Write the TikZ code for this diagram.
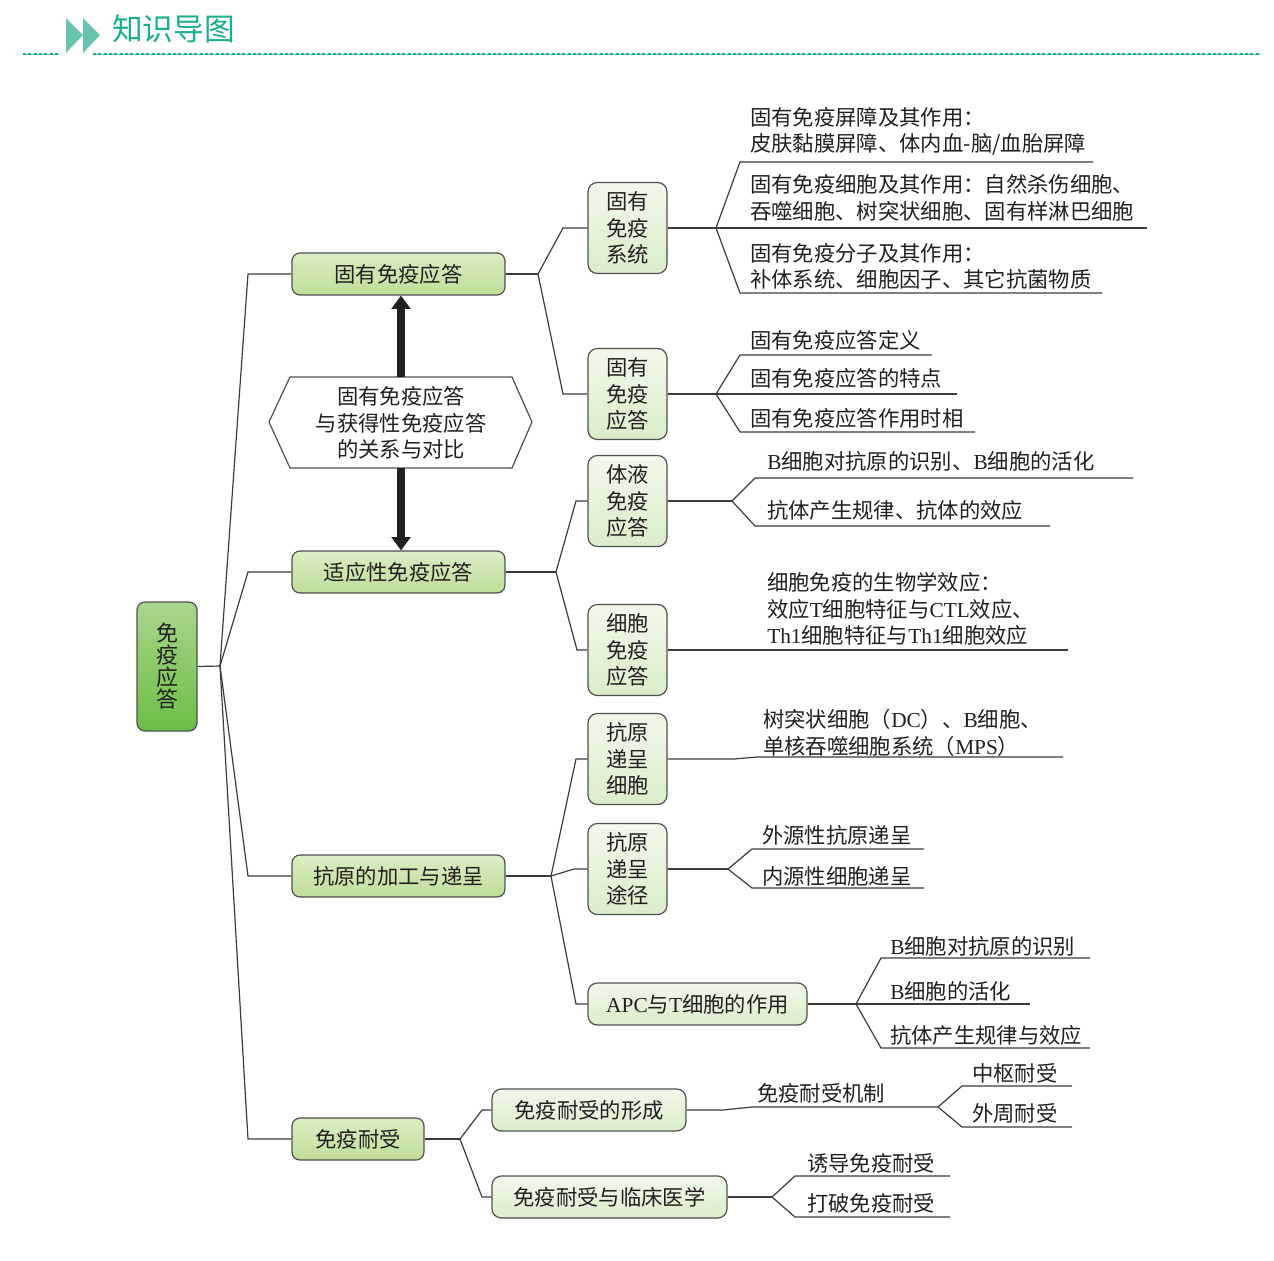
\documentclass[tikz,border=0pt]{standalone}
\usepackage{fontspec}
\setmainfont{Noto Sans CJK SC}
\newfontfamily\latf{Liberation Serif}
\newcommand\EN[1]{{\latf #1}}
\usetikzlibrary{arrows.meta}
\definecolor{teal1}{HTML}{1AAE91}
\definecolor{teal2}{HTML}{66C4B0}
\definecolor{txt}{HTML}{231F20}
\definecolor{lnc}{HTML}{3C3C3C}
\definecolor{bdc}{HTML}{505050}
\definecolor{rootT}{HTML}{A9D68C}
\definecolor{rootB}{HTML}{6CBD45}
\definecolor{l1T}{HTML}{DAEDC4}
\definecolor{l1B}{HTML}{BFDE98}
\definecolor{l2T}{HTML}{F1F8EA}
\definecolor{l2B}{HTML}{DAEDCA}
\begin{document}
\begin{tikzpicture}[x=0.75pt,y=-0.75pt,
  font=\fontsize{16pt}{20pt}\selectfont, text=txt,
  ln/.style={draw=lnc,line width=0.9pt},
  boxbase/.style={draw=bdc,line width=0.9pt,inner sep=0pt,align=center},
  rootbox/.style={boxbase,rounded corners=6pt,top color=rootT,bottom color=rootB,minimum width=45pt,minimum height=96.75pt},
  l1box/.style={boxbase,rounded corners=6pt,top color=l1T,bottom color=l1B,minimum height=31.5pt},
  l2box/.style={boxbase,rounded corners=7pt,top color=l2T,bottom color=l2B,minimum height=31.5pt},
  vbox/.style={l2box,minimum width=59.25pt,minimum height=68.25pt},
  lbl/.style={anchor=west,inner sep=0pt,align=left},
  dotline/.style={teal1,line width=2.2pt,dash pattern=on 2.2pt off 1.8pt},
  thinline/.style={teal1!70,line width=0.5pt},
  bigarrow/.style={draw=txt,line width=5.3pt,-{Triangle[width=14pt,length=10pt]}}]
\useasboundingbox[fill=white] (0,0) rectangle (1274,1260);

% header
\fill[teal2] (66,18) -- (83,35) -- (66,53) -- cycle;
\fill[teal2] (83,18) -- (100,35) -- (83,53) -- cycle;
\node[anchor=west,inner sep=0pt,text=teal1,font=\fontsize{23pt}{25pt}\selectfont] (title) at (112,29) {知识导图};
\draw[thinline] (23,54) -- (59,54);
\draw[thinline] (93,54) -- (1260,54);
\draw[dotline] (23,54) -- (59,54);
\draw[dotline] (93,54) -- (1260,54);

% root and level 1
\node[rootbox,font=\fontsize{16.5pt}{16.5pt}\selectfont] (root) at (167,666.5) {免\\疫\\应\\答};
\node[l1box,minimum width=159.75pt] (g1) at (398.5,274) {固有免疫应答};
\node[l1box,minimum width=159.75pt] (g2) at (398.5,572) {适应性免疫应答};
\node[l1box,minimum width=159.75pt] (g3) at (398.5,876) {抗原的加工与递呈};
\node[l1box,minimum width=99pt] (g4) at (358,1139) {免疫耐受};

\coordinate (j0) at (220,666);
\coordinate (e01) at (248,274);
\coordinate (e02) at (248,572);
\coordinate (e03) at (248,876);
\coordinate (e04) at (248,1139);
\draw[ln] (root.east) -- (j0);
\draw[ln] (j0) -- (e01) -- (g1.west);
\draw[ln] (j0) -- (e02) -- (g2.west);
\draw[ln] (j0) -- (e03) -- (g3.west);
\draw[ln] (j0) -- (e04) -- (g4.west);

% hexagon
\coordinate (hxL) at (269,422);
\coordinate (hxTL) at (290,377);
\coordinate (hxTR) at (512,377);
\coordinate (hxR) at (532,422);
\coordinate (hxBR) at (512,468);
\coordinate (hxBL) at (290,468);
\draw[draw=bdc,line width=0.9pt,fill=white] (hxL) -- (hxTL) -- (hxTR) -- (hxR) -- (hxBR) -- (hxBL) -- cycle;
\node[inner sep=0pt,align=center,font=\fontsize{16pt}{19.8pt}\selectfont] (hex) at (401,423) {固有免疫应答\\与获得性免疫应答\\的关系与对比};
\coordinate (hxT) at (401,377);
\coordinate (hxB) at (401,468);
\draw[bigarrow] (hxT) -- (hxT |- g1.south);
\draw[bigarrow] (hxB) -- (hxB |- g2.north);

% level 2 boxes
\node[vbox] (b1) at (627.5,228) {固有\\免疫\\系统};
\node[vbox] (b2) at (627.5,394) {固有\\免疫\\应答};
\node[vbox] (b3) at (627.5,501) {体液\\免疫\\应答};
\node[vbox] (b4) at (627.5,650) {细胞\\免疫\\应答};
\node[vbox] (b5) at (627.5,759) {抗原\\递呈\\细胞};
\node[vbox] (b6) at (627.5,869) {抗原\\递呈\\途径};
\node[l2box,minimum width=164.25pt] (b7) at (697.5,1004) {\EN{APC}与\EN{T}细胞的作用};
\node[l2box,minimum width=145.5pt] (c1) at (589,1110) {免疫耐受的形成};
\node[l2box,minimum width=176.25pt] (c2) at (609.5,1197) {免疫耐受与临床医学};

% level1 -> level2
\coordinate (j1) at (538,274);
\coordinate (e11) at (563,228);
\coordinate (e12) at (563,394);
\draw[ln] (g1.east) -- (j1);
\draw[ln] (j1) -- (e11) -- (b1.west);
\draw[ln] (j1) -- (e12) -- (b2.west);

\coordinate (j2) at (556,572);
\coordinate (e21) at (576,501);
\coordinate (e22) at (577,650);
\draw[ln] (g2.east) -- (j2);
\draw[ln] (j2) -- (e21) -- (b3.west);
\draw[ln] (j2) -- (e22) -- (b4.west);

\coordinate (j3) at (551,876);
\coordinate (e31) at (576,759);
\coordinate (e32) at (574,869);
\coordinate (e33) at (576,1004);
\draw[ln] (g3.east) -- (j3);
\draw[ln] (j3) -- (e31) -- (b5.west);
\draw[ln] (j3) -- (e32) -- (b6.west);
\draw[ln] (j3) -- (e33) -- (b7.west);

\coordinate (j4) at (460,1139);
\coordinate (e41) at (482,1110);
\coordinate (e42) at (482,1197);
\draw[ln] (g4.east) -- (j4);
\draw[ln] (j4) -- (e41) -- (c1.west);
\draw[ln] (j4) -- (e42) -- (c2.west);

% b1 leaves
\coordinate (k1) at (716,228);
\coordinate (k1u) at (740,162);
\coordinate (k1ue) at (1093,162);
\coordinate (k1me) at (1147,228);
\coordinate (k1d) at (740,293);
\coordinate (k1de) at (1102,293);
\draw[ln] (b1.east) -- (k1) -- (k1me);
\draw[ln] (k1) -- (k1u) -- (k1ue);
\draw[ln] (k1) -- (k1d) -- (k1de);
\node[lbl] (t11) at (750,131.5) {固有免疫屏障及其作用：\\皮肤黏膜屏障、体内血-脑/血胎屏障};
\node[lbl] (t12) at (750,198) {固有免疫细胞及其作用：自然杀伤细胞、\\吞噬细胞、树突状细胞、固有样淋巴细胞};
\node[lbl] (t13) at (750,266.5) {固有免疫分子及其作用：\\补体系统、细胞因子、其它抗菌物质};

% b2 leaves
\coordinate (k2) at (716,394);
\coordinate (k2u) at (740,355);
\coordinate (k2ue) at (932,355);
\coordinate (k2me) at (957,394);
\coordinate (k2d) at (740,432);
\coordinate (k2de) at (975,432);
\draw[ln] (b2.east) -- (k2) -- (k2me);
\draw[ln] (k2) -- (k2u) -- (k2ue);
\draw[ln] (k2) -- (k2d) -- (k2de);
\node[lbl] (t21) at (750,340) {固有免疫应答定义};
\node[lbl] (t22) at (750,378) {固有免疫应答的特点};
\node[lbl] (t23) at (750,418) {固有免疫应答作用时相};

% b3 leaves
\coordinate (k3) at (732,501);
\coordinate (k3u) at (755,478);
\coordinate (k3ue) at (1133,478);
\coordinate (k3d) at (755,526);
\coordinate (k3de) at (1050,526);
\draw[ln] (b3.east) -- (k3);
\draw[ln] (k3) -- (k3u) -- (k3ue);
\draw[ln] (k3) -- (k3d) -- (k3de);
\node[lbl] (t31) at (767,461) {\EN{B}细胞对抗原的识别、\EN{B}细胞的活化};
\node[lbl] (t32) at (767,510) {抗体产生规律、抗体的效应};

% b4 leaves
\coordinate (k4e) at (1068,650);
\draw[ln] (b4.east) -- (k4e);
\node[lbl] (t41) at (767,609) {细胞免疫的生物学效应：\\效应\EN{T}细胞特征与\EN{CTL}效应、\\\EN{Th1}细胞特征与\EN{Th1}细胞效应};

% b5 leaves
\coordinate (k5a) at (734,759);
\coordinate (k5b) at (757,757);
\coordinate (k5e) at (1063,757);
\draw[ln] (b5.east) -- (k5a) -- (k5b) -- (k5e);
\node[lbl] (t51) at (763,733) {树突状细胞（\EN{DC}）、\EN{B}细胞、\\单核吞噬细胞系统（\EN{MPS}）};

% b6 leaves
\coordinate (k6) at (728,869);
\coordinate (k6u) at (752,849);
\coordinate (k6ue) at (924,849);
\coordinate (k6d) at (752,888);
\coordinate (k6de) at (924,888);
\draw[ln] (b6.east) -- (k6);
\draw[ln] (k6) -- (k6u) -- (k6ue);
\draw[ln] (k6) -- (k6d) -- (k6de);
\node[lbl] (t61) at (762,835) {外源性抗原递呈};
\node[lbl] (t62) at (762,876) {内源性细胞递呈};

% b7 leaves
\coordinate (k7) at (856,1004);
\coordinate (k7u) at (881,958);
\coordinate (k7ue) at (1090,958);
\coordinate (k7me) at (1030,1004);
\coordinate (k7d) at (881,1048);
\coordinate (k7de) at (1090,1048);
\draw[ln] (b7.east) -- (k7) -- (k7me);
\draw[ln] (k7) -- (k7u) -- (k7ue);
\draw[ln] (k7) -- (k7d) -- (k7de);
\node[lbl] (t71) at (890,946) {\EN{B}细胞对抗原的识别};
\node[lbl] (t72) at (890,991) {\EN{B}细胞的活化};
\node[lbl] (t73) at (890,1035) {抗体产生规律与效应};

% c1 leaves
\coordinate (m1a) at (723,1110);
\coordinate (m1b) at (752,1107);
\coordinate (m1) at (938,1107);
\coordinate (m1u) at (962,1086);
\coordinate (m1ue) at (1072,1086);
\coordinate (m1d) at (962,1127);
\coordinate (m1de) at (1072,1127);
\draw[ln] (c1.east) -- (m1a) -- (m1b) -- (m1);
\draw[ln] (m1) -- (m1u) -- (m1ue);
\draw[ln] (m1) -- (m1d) -- (m1de);
\node[lbl] (u11) at (757,1093) {免疫耐受机制};
\node[lbl] (u12) at (972,1073) {中枢耐受};
\node[lbl] (u13) at (972,1113) {外周耐受};

% c2 leaves
\coordinate (m2) at (772,1197);
\coordinate (m2u) at (795,1176);
\coordinate (m2ue) at (950,1176);
\coordinate (m2d) at (795,1217);
\coordinate (m2de) at (950,1217);
\draw[ln] (c2.east) -- (m2);
\draw[ln] (m2) -- (m2u) -- (m2ue);
\draw[ln] (m2) -- (m2d) -- (m2de);
\node[lbl] (u21) at (807,1163) {诱导免疫耐受};
\node[lbl] (u22) at (807,1203) {打破免疫耐受};
\end{tikzpicture}
\end{document}
